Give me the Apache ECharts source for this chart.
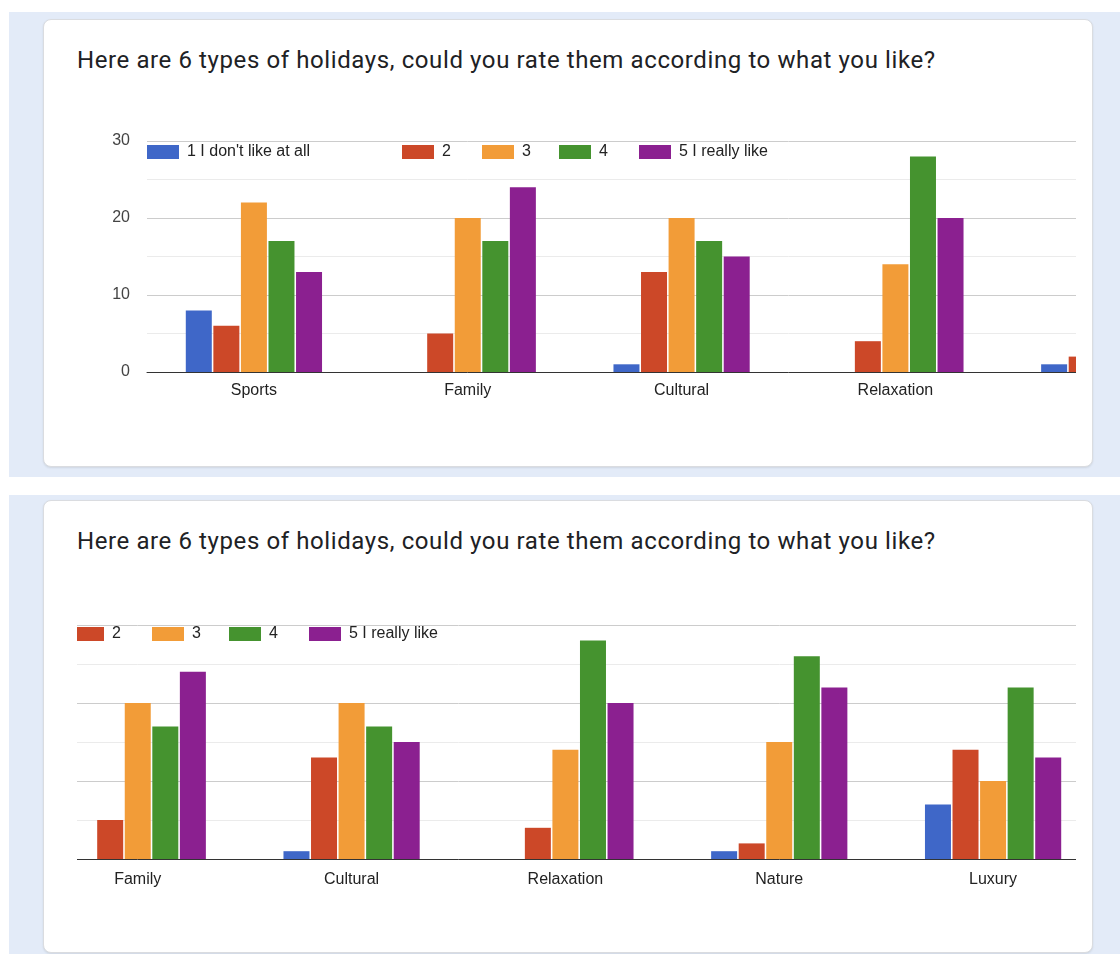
<!DOCTYPE html>
<html>
<head>
<meta charset="UTF-8">
<script src="https://cdn.jsdelivr.net/npm/echarts@6/dist/echarts.min.js"></script>
<style>
  html, body { margin: 0; padding: 0; background: #fff; }
  body { width: 1120px; height: 954px; position: relative; overflow: hidden; font-family: 'Liberation Sans', Arial, sans-serif; }
  .band { position: absolute; left: 9px; width: 1111px; background: #e3ebf8; }
  .card { position: absolute; left: 43px; width: 1048px; background: #fff; border: 1px solid #dadce0; border-radius: 8px; box-shadow: 0 1px 2px rgba(60,64,67,.12); }
  .title { position: absolute; left: 77px; font-family: Roboto, 'Noto Sans', sans-serif; font-size: 24px; letter-spacing: 0.6px; line-height: 28px; color: #202124; white-space: nowrap; }
  .clip { position: absolute; left: 77px; width: 999px; height: 290px; overflow: hidden; }
  .chart { position: absolute; top: 0; width: 1400px; height: 290px; }
</style>
</head>
<body>
<div class="band" style="top:12px;height:465px;"></div>
<div class="band" style="top:495px;height:459px;"></div>
<div class="card" style="top:19px;height:446px;"></div>
<div class="card" style="top:500px;height:451px;"></div>

<div class="title" style="top:46px;">Here are 6 types of holidays, could you rate them according to what you like?</div>
<div class="title" style="top:527px;">Here are 6 types of holidays, could you rate them according to what you like?</div>

<div class="clip" style="top:120px;"><div id="chart1" class="chart" style="left:0px;"></div></div>
<div class="clip" style="top:600px;"><div id="chart2" class="chart" style="left:-330px;"></div></div>

<script type="text/javascript">
  // survey answers per holiday type
  var categories = ['Sports', 'Family', 'Cultural', 'Relaxation', 'Nature', 'Luxury'];
  var seriesNames = ["1 I don't like at all", '2', '3', '4', '5 I really like'];
  var rating1 = [8, 0, 1, 0, 1, 7];
  var rating2 = [6, 5, 13, 4, 2, 14];
  var rating3 = [22, 20, 20, 14, 15, 10];
  var rating4 = [17, 17, 17, 28, 26, 22];
  var rating5 = [13, 24, 15, 20, 22, 13];
  var yMin = 0, yMax = 30, yStep = 10;

  var colors = ['#3f67c8', '#cc4828', '#f29c38', '#45932f', '#8b2090'];
  var values = [rating1, rating2, rating3, rating4, rating5];
  var legendLeft = [70, 325, 405, 482, 562];

  function buildOption(gridTop, gridHeight, legendTop, labelMargin) {
    var legends = [];
    var series = [];
    for (var i = 0; i < seriesNames.length; i++) {
      legends.push({
        data: [seriesNames[i]],
        left: legendLeft[i],
        top: legendTop,
        padding: 0,
        icon: 'rect',
        itemWidth: 32,
        itemHeight: 14,
        selectedMode: false,
        textStyle: { color: '#222', fontSize: 16, fontFamily: 'Liberation Sans, Arial', padding: [0, 0, 0, 3] }
      });
      series.push({
        name: seriesNames[i],
        type: 'bar',
        data: values[i],
        barWidth: 26,
        barGap: '6%',
        itemStyle: { color: colors[i] },
        emphasis: { disabled: true }
      });
    }
    return {
      animation: false,
      color: colors,
      legend: legends,
      grid: { left: 70, top: gridTop, width: 1283, height: gridHeight },
      xAxis: {
        type: 'category',
        data: categories,
        axisTick: { show: false },
        axisLine: { lineStyle: { color: '#333', width: 1 } },
        axisLabel: { color: '#222', fontSize: 16, margin: labelMargin, fontFamily: 'Liberation Sans, Arial' }
      },
      yAxis: {
        type: 'value',
        min: yMin,
        max: yMax,
        interval: yStep,
        axisLabel: { color: '#444', fontSize: 16, margin: 17, fontFamily: 'Liberation Sans, Arial' },
        splitLine: { lineStyle: { color: '#cccccc' } },
        minorTick: { show: false, splitNumber: 2 },
        minorSplitLine: { show: true, lineStyle: { color: '#ebebeb' } }
      },
      series: series
    };
  }

  var chart1 = echarts.init(document.getElementById('chart1'));
  chart1.setOption(buildOption(21, 231, 24, 11));
  var chart2 = echarts.init(document.getElementById('chart2'));
  chart2.setOption(buildOption(25, 234, 26, 13));
</script>
</body>
</html>
